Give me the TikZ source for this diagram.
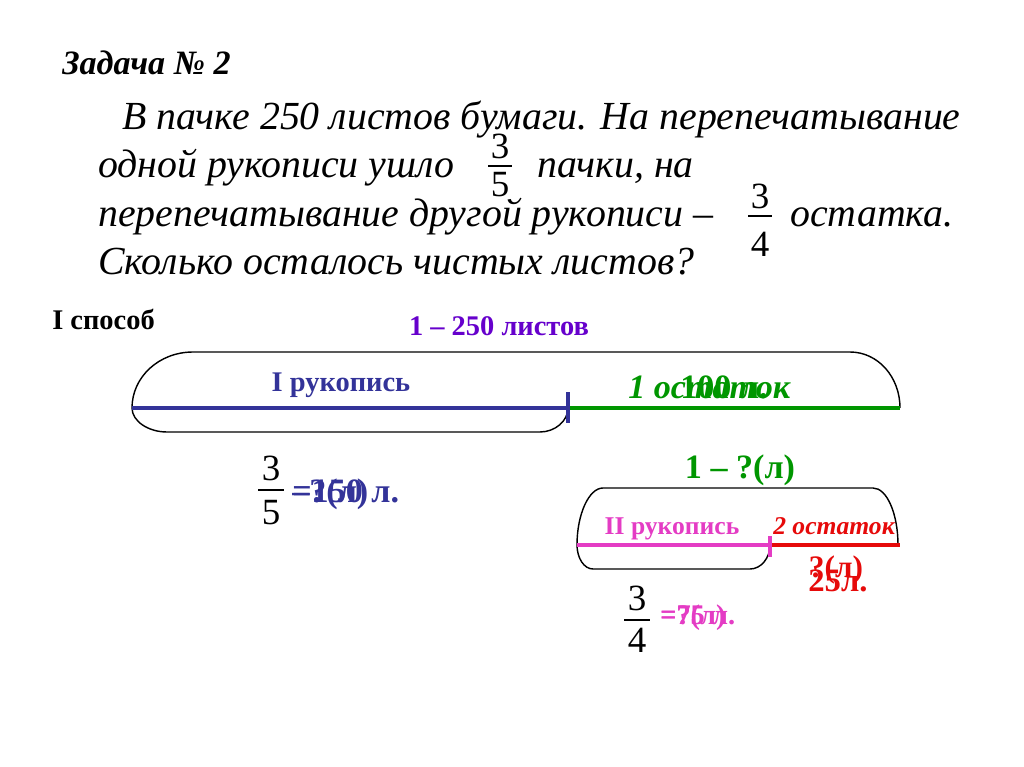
\documentclass[tikz,border=0pt]{standalone}
\usepackage{fontspec}
\setmainfont{Liberation Serif}
\usetikzlibrary{positioning}
\definecolor{rkblue}{RGB}{51,51,153}
\definecolor{rkgreen}{RGB}{0,150,0}
\definecolor{rkviolet}{RGB}{102,0,204}
\definecolor{rkpink}{RGB}{228,60,196}
\definecolor{rkred}{RGB}{230,10,10}
\newcommand{\fsz}[1]{\fontsize{#1}{1.2\dimexpr#1pt\relax}\selectfont}
\tikzset{
  txt/.style={inner sep=0pt, anchor=base west},
  ctxt/.style={inner sep=0pt, anchor=base},
  task/.style={txt, font=\fsz{28}\itshape},
  digit/.style={ctxt, font=\fsz{26}},
  fracbar/.style={line width=1.2pt},
  outline/.style={line width=1pt, black},
  part/.style={line width=#1},
}
\begin{document}
\begin{tikzpicture}[x=0.703125pt,y=-0.703125pt]
  \useasboundingbox (0,0) rectangle (1024,767);

  % task text
  \node[txt, font=\fsz{24}\bfseries\itshape] (title) at (62,75) {Задача № 2};
  \node[task] (line1) at (122,130) {В пачке 250 листов бумаги. На перепечатывание};
  \node[task] (line2a) at (98,178) {одной рукописи ушло};
  \node[task] (line2b) at (537,178) {пачки, на};
  \node[task] (line3a) at (98,226) {перепечатывание другой рукописи –};
  \node[task] (line3b) at (790,226) {остатка.};
  \node[task] (line4) at (98,274) {Сколько осталось чистых листов?};

  % fractions in the text
  \node[digit] (fA3) at (500,159) {3};
  \node[digit] (fA5) at (500,197) {5};
  \draw[fracbar] (488,166) -- (512,166);
  \node[digit] (fB3) at (760,209) {3};
  \node[digit] (fB4) at (760,256) {4};
  \draw[fracbar] (748,216) -- (772,216);

  \node[txt, font=\fsz{20}\bfseries] (way) at (52,329) {I способ};
  \node[ctxt, font=\fsz{20}\bfseries, text=rkviolet] (whole) at (499,335) {1 – 250 листов};

  % first scheme
  \coordinate (P1) at (132,408);
  \coordinate (P2) at (568,408);
  \coordinate (P3) at (900,408);
  \draw[outline] (P1) .. controls (132,377) and (159,352) .. (193,352) -- (850,352)
    .. controls (878,352) and (900,377) .. (P3);
  \draw[outline] (P1) .. controls (132,421) and (148,432) .. (167,432) -- (540,432)
    .. controls (555,432) and (568,421) .. (P2);
  \draw[part=3.5pt, rkgreen] (P2) -- (P3);
  \draw[part=3.5pt, rkblue] (P1) -- (P2);
  \draw[part=3.5pt, rkblue] (568,392) -- (568,423);

  \node[ctxt, font=\fsz{20}\bfseries, text=rkblue] (man1) at (341,391) {I рукопись};
  \node[txt, font=\fsz{24}\bfseries\itshape, text=rkgreen] (rest1) at (628,398) {1 остаток};
  \node[txt, font=\fsz{24}\bfseries, text=rkgreen] (rest1v) at (680,398) {100 л.};

  \node[digit] (fC3) at (271,480) {3};
  \node[digit] (fC5) at (271,524) {5};
  \draw[fracbar] (258,490) -- (284,490);
  \node[txt, font=\fsz{24}\bfseries, text=rkblue] (man1q) at (292,502) {–?(л)};
  \node[txt, font=\fsz{24}\bfseries, text=rkblue] (man1v) at (292,502) {=150 л.};

  \node[ctxt, font=\fsz{24}\bfseries, text=rkgreen] (whole2) at (740,478) {1 – ?(л)};

  % second scheme
  \coordinate (Q1) at (577,545);
  \coordinate (Q2) at (770,545);
  \coordinate (Q3) at (900,545);
  \draw[outline] (Q1) .. controls (577,514) and (589,488) .. (603,488) -- (873,488)
    .. controls (887,488) and (898,514) .. (898,545);
  \draw[outline] (Q1) .. controls (577,558) and (584,569) .. (593,569) -- (750,569)
    .. controls (761,569) and (770,558) .. (Q2);
  \draw[part=2.5pt, rkred] (Q2) -- (Q3);
  \draw[part=2.5pt, rkpink] (Q1) -- (Q2);
  \draw[part=3.5pt, rkpink] (770,536) -- (770,557);

  \node[ctxt, font=\fsz{18}\bfseries, text=rkpink] (man2) at (672,534) {II рукопись};
  \node[txt, font=\fsz{18}\bfseries\itshape, text=rkred] (rest2) at (773,534) {2 остаток};
  \node[ctxt, font=\fsz{22}\bfseries, text=rkred] (rest2q) at (836,577) {?(л)};
  \node[ctxt, font=\fsz{23}\bfseries, text=rkred] (rest2v) at (838,591) {25л.};

  \node[digit] (fD3) at (637,610) {3};
  \node[digit] (fD4) at (637,652) {4};
  \draw[fracbar] (624,620) -- (650,620);
  \node[txt, font=\fsz{20}\bfseries, text=rkpink] (man2q) at (660,624) {=?(л)};
  \node[txt, font=\fsz{20}\bfseries, text=rkpink] (man2v) at (660,624) {=75 л.};
\end{tikzpicture}
\end{document}
